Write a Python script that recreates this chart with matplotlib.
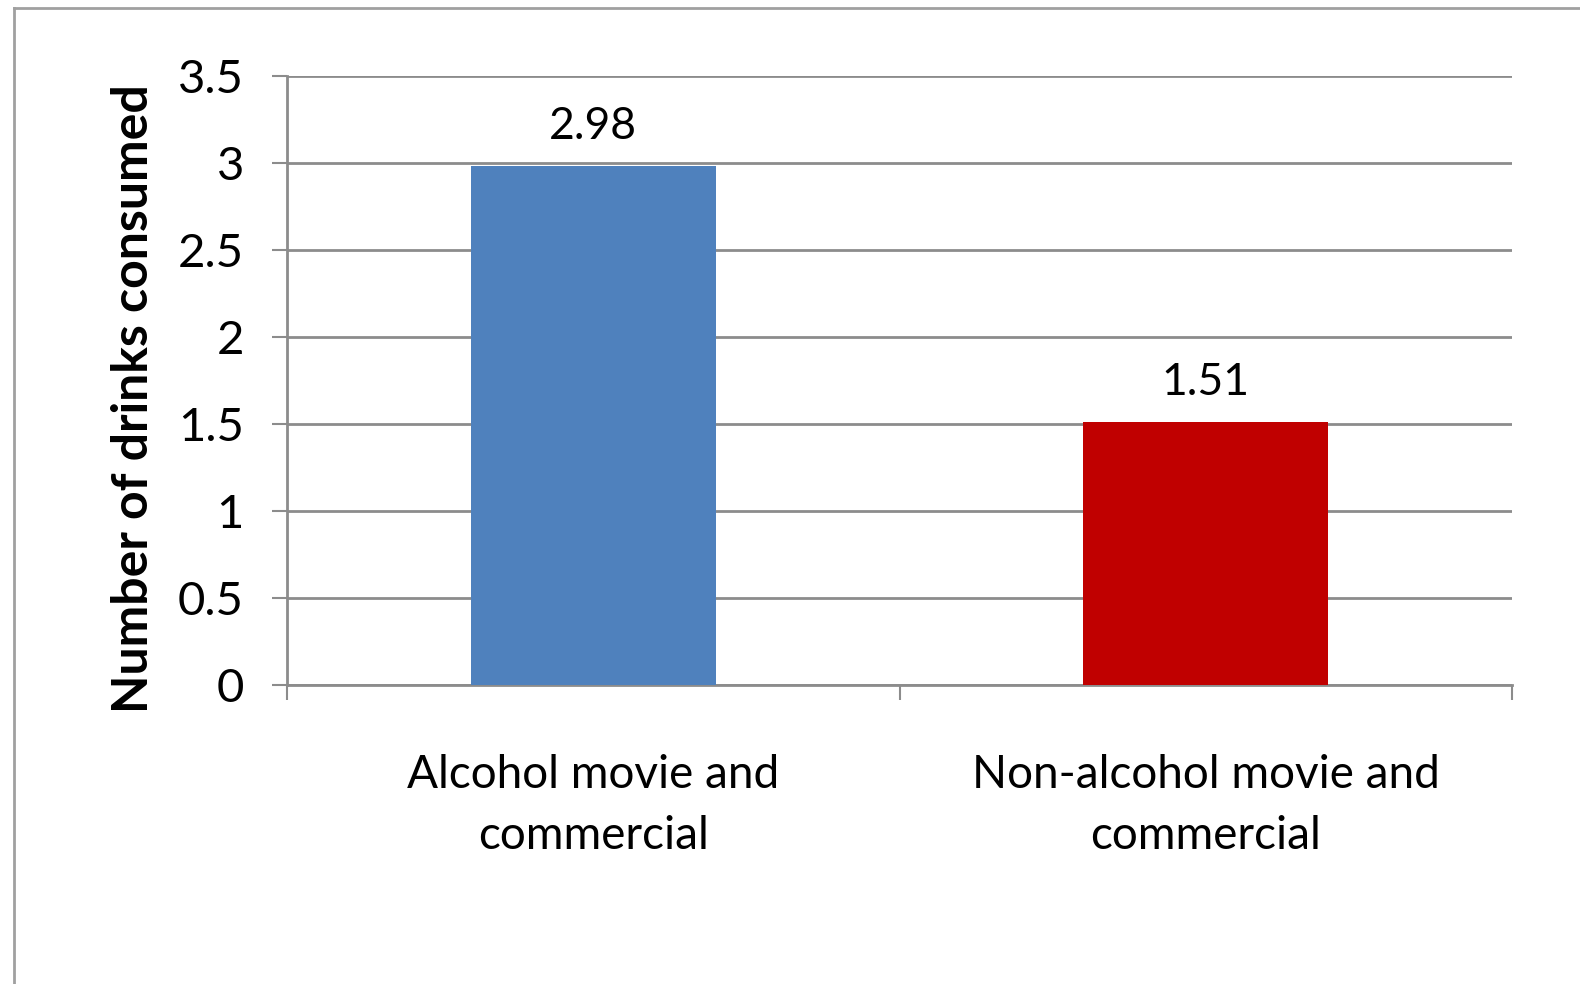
import matplotlib
matplotlib.use("Agg")
import matplotlib.pyplot as plt
from matplotlib.lines import Line2D
from matplotlib.ticker import FixedLocator

categories = ["Alcohol movie and\ncommercial", "Non-alcohol movie and\ncommercial"]
values = [2.98, 1.51]
value_labels = ["2.98", "1.51"]
bar_colors = ["#4F81BD", "#C00000"]
y_ticks = [0, 0.5, 1, 1.5, 2, 2.5, 3, 3.5]
y_tick_labels = ["0", "0.5", "1", "1.5", "2", "2.5", "3", "3.5"]
y_label = "Number of drinks consumed"

plt.rcParams['font.family'] = ['Lato', 'DejaVu Sans']
W, H = 1580, 984
fig = plt.figure(figsize=(W / 100, H / 100), dpi=100)
ax = fig.add_axes([287 / W, 1 - 685 / H, (1512 - 287) / W, (685 - 76) / H])

grid_c = "#8c8c8c"
x = list(range(len(categories)))
ax.bar(x, values, width=0.4, color=bar_colors, zorder=3)
for xi, v, lab in zip(x, values, value_labels):
    ax.annotate(lab, (xi, v), xytext=(0, 14), textcoords="offset points",
                ha="center", va="bottom", fontsize=32)

ax.set_xlim(-0.5, len(categories) - 0.5)
ax.set_ylim(0, 3.5)
ax.set_yticks(y_ticks)
ax.set_yticklabels(y_tick_labels, fontsize=34)
ax.grid(axis="y", color=grid_c, linewidth=2, zorder=0)
ax.set_axisbelow(True)

ax.set_xticks(x)
ax.set_xticklabels(categories, fontsize=33, linespacing=1.55)
ax.tick_params(axis="x", which="major", length=0, pad=50)
ax.xaxis.set_minor_locator(FixedLocator([-0.5, 0.5, 1.5]))
ax.tick_params(axis="x", which="minor", length=11, width=1.5, color=grid_c, direction="out")
ax.tick_params(axis="y", length=11, width=1.5, color=grid_c, pad=20, direction="out")

for s in ["top", "right"]:
    ax.spines[s].set_visible(False)
for s in ["left", "bottom"]:
    ax.spines[s].set_color(grid_c)
    ax.spines[s].set_linewidth(2)

ax.set_ylabel(y_label, fontsize=36, fontweight="bold", labelpad=16, y=0.47)

# outer chart border (left and top only visible)
fig.add_artist(Line2D([13.5 / W, 13.5 / W], [0, 1 - 8 / H], color="#a0a0a0", linewidth=2, transform=fig.transFigure))
fig.add_artist(Line2D([13.5 / W, 1], [1 - 8 / H, 1 - 8 / H], color="#a0a0a0", linewidth=2, transform=fig.transFigure))

fig.savefig("out.png", dpi=100)
